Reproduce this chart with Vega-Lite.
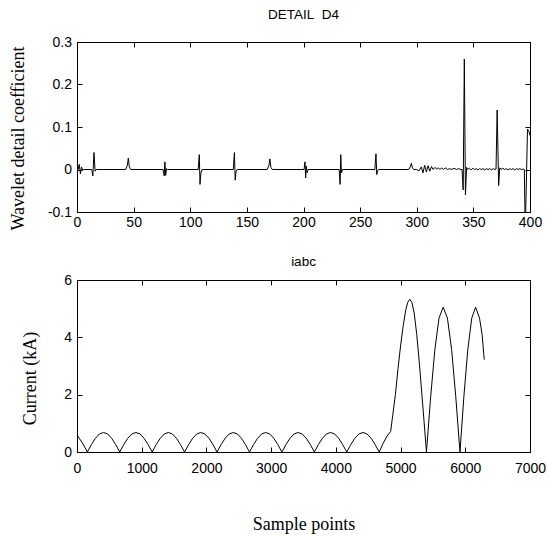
{
  "$schema": "https://vega.github.io/schema/vega-lite/v6.json",
  "padding": {"left": 8, "top": 7, "right": 5, "bottom": 0},
  "background": "white",
  "config": {
    "view": {"stroke": "black", "strokeWidth": 1},
    "axis": {
      "domainColor": "black", "tickColor": "black", "labelColor": "black", "titleColor": "black",
      "grid": false, "labelFont": "Liberation Sans", "labelFontSize": 14,
      "titleFont": "Liberation Serif", "titleFontSize": 18, "titleFontWeight": "normal",
      "tickSize": -5, "labelFlush": false, "labelOverlap": false
    },
    "title": {"font": "Liberation Sans", "fontSize": 13.5, "fontWeight": "normal", "color": "black"}
  },
  "datasets": {
    "d4": [
      {"sample": 0, "coef": 0.002}, {"sample": 1, "coef": 0.0}, {"sample": 2, "coef": 0.012}, {"sample": 3, "coef": -0.01},
      {"sample": 4, "coef": 0.006}, {"sample": 5, "coef": -0.002}, {"sample": 6, "coef": 0.0},
      {"sample": 13, "coef": 0.0}, {"sample": 14, "coef": -0.015}, {"sample": 15, "coef": 0.04}, {"sample": 16, "coef": -0.004}, {"sample": 17, "coef": 0.0},
      {"sample": 43, "coef": 0.0}, {"sample": 44.5, "coef": 0.01}, {"sample": 45.3, "coef": 0.027}, {"sample": 46.2, "coef": 0.006}, {"sample": 47.5, "coef": 0.0},
      {"sample": 76, "coef": 0.0}, {"sample": 77, "coef": -0.015}, {"sample": 77.6, "coef": 0.018}, {"sample": 78.3, "coef": -0.014}, {"sample": 79, "coef": 0.002}, {"sample": 80, "coef": 0.0},
      {"sample": 107, "coef": 0.0}, {"sample": 108, "coef": 0.035}, {"sample": 108.6, "coef": -0.035}, {"sample": 109.4, "coef": -0.008}, {"sample": 110.5, "coef": 0.0},
      {"sample": 138, "coef": 0.0}, {"sample": 139, "coef": 0.04}, {"sample": 139.7, "coef": -0.025}, {"sample": 140.5, "coef": -0.004}, {"sample": 141.5, "coef": 0.0},
      {"sample": 168, "coef": 0.0}, {"sample": 169.5, "coef": 0.01}, {"sample": 170.3, "coef": 0.025}, {"sample": 171.2, "coef": 0.005}, {"sample": 172.5, "coef": 0.0},
      {"sample": 200.5, "coef": 0.0}, {"sample": 201.3, "coef": 0.018}, {"sample": 201.9, "coef": -0.02}, {"sample": 202.5, "coef": 0.008}, {"sample": 203.2, "coef": -0.008}, {"sample": 204, "coef": 0.0},
      {"sample": 231.5, "coef": 0.0}, {"sample": 232.3, "coef": -0.035}, {"sample": 232.9, "coef": 0.035}, {"sample": 233.5, "coef": -0.008}, {"sample": 234.5, "coef": 0.0},
      {"sample": 263, "coef": 0.0}, {"sample": 264, "coef": 0.037}, {"sample": 264.7, "coef": -0.012}, {"sample": 265.5, "coef": -0.002}, {"sample": 266.5, "coef": 0.0},
      {"sample": 293, "coef": 0.0}, {"sample": 294.5, "coef": 0.008}, {"sample": 295.3, "coef": 0.015}, {"sample": 296.2, "coef": 0.003}, {"sample": 297.5, "coef": 0.0},
      {"sample": 300, "coef": 0.0}, {"sample": 302, "coef": -0.003}, {"sample": 304, "coef": 0.006}, {"sample": 305.5, "coef": -0.008},
      {"sample": 307, "coef": 0.01}, {"sample": 308.5, "coef": -0.006}, {"sample": 310, "coef": 0.009}, {"sample": 311.5, "coef": -0.004},
      {"sample": 313, "coef": 0.007}, {"sample": 314.5, "coef": 0.0}, {"sample": 316, "coef": 0.005}, {"sample": 317.5, "coef": 0.001},
      {"sample": 319, "coef": 0.004}, {"sample": 320.5, "coef": 0.0}, {"sample": 322, "coef": 0.004}, {"sample": 323.5, "coef": 0.0},
      {"sample": 325, "coef": 0.004}, {"sample": 327, "coef": 0.0}, {"sample": 329, "coef": 0.002}, {"sample": 331, "coef": 0.0},
      {"sample": 333, "coef": 0.003}, {"sample": 335, "coef": 0.0}, {"sample": 337, "coef": 0.002}, {"sample": 339, "coef": 0.0}, {"sample": 340, "coef": 0.0},
      {"sample": 341, "coef": -0.048}, {"sample": 342, "coef": 0.26}, {"sample": 343, "coef": -0.06}, {"sample": 344, "coef": 0.005},
      {"sample": 345, "coef": 0.0}, {"sample": 346.5, "coef": 0.003}, {"sample": 348, "coef": -0.001}, {"sample": 349.5, "coef": 0.003},
      {"sample": 351, "coef": 0.0}, {"sample": 352.5, "coef": 0.002}, {"sample": 354, "coef": -0.001}, {"sample": 355.5, "coef": 0.002},
      {"sample": 357, "coef": 0.0}, {"sample": 358.5, "coef": 0.002}, {"sample": 360, "coef": -0.001}, {"sample": 361.5, "coef": 0.002},
      {"sample": 363, "coef": 0.0}, {"sample": 364.5, "coef": 0.002}, {"sample": 366, "coef": -0.001}, {"sample": 367.5, "coef": 0.002},
      {"sample": 369, "coef": 0.0}, {"sample": 370, "coef": 0.001}, {"sample": 371, "coef": 0.14}, {"sample": 372.3, "coef": -0.038},
      {"sample": 373.3, "coef": 0.004}, {"sample": 374.5, "coef": 0.0}, {"sample": 376, "coef": 0.003}, {"sample": 377.5, "coef": 0.0},
      {"sample": 379, "coef": 0.002}, {"sample": 380.5, "coef": -0.001}, {"sample": 382, "coef": 0.002}, {"sample": 383.5, "coef": 0.0},
      {"sample": 385, "coef": 0.002}, {"sample": 386.5, "coef": -0.001}, {"sample": 388, "coef": 0.002}, {"sample": 389.5, "coef": 0.0},
      {"sample": 391, "coef": 0.002}, {"sample": 392.5, "coef": 0.0}, {"sample": 394, "coef": 0.001}, {"sample": 395, "coef": 0.0},
      {"sample": 395.8, "coef": -0.15}, {"sample": 397.8, "coef": 0.095}, {"sample": 399, "coef": 0.09}, {"sample": 400, "coef": 0.08}
    ],
    "iabc": [
      {"sample": 0, "current": 0.6}, {"sample": 40, "current": 0.46}, {"sample": 80, "current": 0.33}, {"sample": 120, "current": 0.17}, {"sample": 160, "current": 0},
      {"sample": 223, "current": 0.26}, {"sample": 285, "current": 0.48}, {"sample": 348, "current": 0.63}, {"sample": 410, "current": 0.68}, {"sample": 473, "current": 0.63}, {"sample": 535, "current": 0.48}, {"sample": 598, "current": 0.26}, {"sample": 660, "current": 0},
      {"sample": 723, "current": 0.26}, {"sample": 785, "current": 0.48}, {"sample": 848, "current": 0.63}, {"sample": 911, "current": 0.68}, {"sample": 974, "current": 0.63}, {"sample": 1036, "current": 0.48}, {"sample": 1099, "current": 0.26}, {"sample": 1162, "current": 0},
      {"sample": 1224, "current": 0.26}, {"sample": 1287, "current": 0.48}, {"sample": 1349, "current": 0.63}, {"sample": 1412, "current": 0.68}, {"sample": 1474, "current": 0.63}, {"sample": 1537, "current": 0.48}, {"sample": 1599, "current": 0.26}, {"sample": 1662, "current": 0},
      {"sample": 1725, "current": 0.26}, {"sample": 1788, "current": 0.48}, {"sample": 1850, "current": 0.63}, {"sample": 1913, "current": 0.68}, {"sample": 1976, "current": 0.63}, {"sample": 2039, "current": 0.48}, {"sample": 2101, "current": 0.26}, {"sample": 2164, "current": 0},
      {"sample": 2227, "current": 0.26}, {"sample": 2290, "current": 0.48}, {"sample": 2352, "current": 0.63}, {"sample": 2415, "current": 0.68}, {"sample": 2478, "current": 0.63}, {"sample": 2541, "current": 0.48}, {"sample": 2603, "current": 0.26}, {"sample": 2666, "current": 0},
      {"sample": 2728, "current": 0.26}, {"sample": 2791, "current": 0.48}, {"sample": 2853, "current": 0.63}, {"sample": 2916, "current": 0.68}, {"sample": 2978, "current": 0.63}, {"sample": 3041, "current": 0.48}, {"sample": 3103, "current": 0.26}, {"sample": 3166, "current": 0},
      {"sample": 3229, "current": 0.26}, {"sample": 3292, "current": 0.48}, {"sample": 3354, "current": 0.63}, {"sample": 3417, "current": 0.68}, {"sample": 3480, "current": 0.63}, {"sample": 3543, "current": 0.48}, {"sample": 3605, "current": 0.26}, {"sample": 3668, "current": 0},
      {"sample": 3730, "current": 0.26}, {"sample": 3793, "current": 0.48}, {"sample": 3855, "current": 0.63}, {"sample": 3918, "current": 0.68}, {"sample": 3980, "current": 0.63}, {"sample": 4043, "current": 0.48}, {"sample": 4105, "current": 0.26}, {"sample": 4168, "current": 0},
      {"sample": 4231, "current": 0.26}, {"sample": 4294, "current": 0.48}, {"sample": 4356, "current": 0.63}, {"sample": 4419, "current": 0.68}, {"sample": 4482, "current": 0.63}, {"sample": 4545, "current": 0.48}, {"sample": 4607, "current": 0.26}, {"sample": 4670, "current": 0},
      {"sample": 4730, "current": 0.3}, {"sample": 4790, "current": 0.55}, {"sample": 4847, "current": 0.72}, {"sample": 4880, "current": 1.3}, {"sample": 4920, "current": 2.0},
      {"sample": 4960, "current": 2.9}, {"sample": 5000, "current": 3.7}, {"sample": 5040, "current": 4.4}, {"sample": 5080, "current": 4.95}, {"sample": 5110, "current": 5.22},
      {"sample": 5142, "current": 5.33}, {"sample": 5175, "current": 5.22}, {"sample": 5210, "current": 4.85}, {"sample": 5250, "current": 4.1}, {"sample": 5290, "current": 3.1},
      {"sample": 5330, "current": 2.0}, {"sample": 5365, "current": 1.0}, {"sample": 5400, "current": 0},
      {"sample": 5465, "current": 1.93}, {"sample": 5530, "current": 3.57}, {"sample": 5594, "current": 4.67}, {"sample": 5659, "current": 5.05}, {"sample": 5724, "current": 4.67}, {"sample": 5789, "current": 3.57}, {"sample": 5853, "current": 1.93}, {"sample": 5918, "current": 0},
      {"sample": 5978, "current": 1.93}, {"sample": 6039, "current": 3.57}, {"sample": 6100, "current": 4.67}, {"sample": 6160, "current": 5.05}, {"sample": 6220, "current": 4.67}, {"sample": 6260, "current": 4.1}, {"sample": 6293, "current": 3.22}
    ]
  },
  "spacing": 20,
  "vconcat": [
    {
      "title": {"text": "DETAIL\u00a0 D4", "offset": 14},
      "width": 453,
      "height": 170,
      "data": {"name": "d4"},
      "layer": [
        {
          "mark": {"type": "line", "color": "black", "strokeWidth": 1, "clip": true},
          "encoding": {
            "x": {"field": "sample", "type": "quantitative", "scale": {"domain": [0, 400], "nice": false},
                  "axis": {"orient": "bottom", "title": null, "values": [0, 50, 100, 150, 200, 250, 300, 350, 400], "labelPadding": 8.5}},
            "y": {"field": "coef", "type": "quantitative", "scale": {"domain": [-0.1, 0.3], "nice": false, "zero": false},
                  "axis": {"orient": "left", "title": "Wavelet detail coefficient", "values": [-0.1, 0, 0.1, 0.2, 0.3],
                           "labelExpr": "datum.value == 0 ? '0' : replace(format(datum.value, '.1f'), '\u2212', '-')",
                           "labelPadding": 10.5, "titleX": -59, "titleY": 96, "titleBaseline": "middle", "titleAlign": "center", "titleAngle": -90}}
          }
        },
        {
          "mark": {"type": "line", "opacity": 0},
          "encoding": {
            "x": {"field": "sample", "type": "quantitative", "scale": {"domain": [0, 400], "nice": false},
                  "axis": {"orient": "top", "title": null, "labels": false, "values": [0, 50, 100, 150, 200, 250, 300, 350, 400]}},
            "y": {"field": "coef", "type": "quantitative", "scale": {"domain": [-0.1, 0.3], "nice": false, "zero": false},
                  "axis": {"orient": "right", "title": null, "labels": false, "values": [-0.1, 0, 0.1, 0.2, 0.3]}}
          }
        }
      ],
      "resolve": {"axis": {"x": "independent", "y": "independent"}}
    },
    {
      "title": {"text": "iabc", "offset": 5},
      "width": 453,
      "height": 172,
      "data": {"name": "iabc"},
      "layer": [
        {
          "mark": {"type": "line", "color": "black", "strokeWidth": 1, "clip": true},
          "encoding": {
            "x": {"field": "sample", "type": "quantitative", "scale": {"domain": [0, 7000], "nice": false},
                  "axis": {"orient": "bottom", "title": "Sample points", "values": [0, 1000, 2000, 3000, 4000, 5000, 6000, 7000], "format": "d",
                           "labelPadding": 14, "titleY": 72, "titleBaseline": "middle"}},
            "y": {"field": "current", "type": "quantitative", "scale": {"domain": [0, 6], "nice": false},
                  "axis": {"orient": "left", "title": "Current (kA)", "values": [0, 2, 4, 6],
                           "labelPadding": 10.5, "titleX": -46.5, "titleY": 98, "titleBaseline": "middle", "titleAlign": "center", "titleAngle": -90}}
          }
        },
        {
          "mark": {"type": "line", "opacity": 0},
          "encoding": {
            "x": {"field": "sample", "type": "quantitative", "scale": {"domain": [0, 7000], "nice": false},
                  "axis": {"orient": "top", "title": null, "labels": false, "values": [0, 1000, 2000, 3000, 4000, 5000, 6000, 7000]}},
            "y": {"field": "current", "type": "quantitative", "scale": {"domain": [0, 6], "nice": false},
                  "axis": {"orient": "right", "title": null, "labels": false, "values": [0, 2, 4, 6]}}
          }
        }
      ],
      "resolve": {"axis": {"x": "independent", "y": "independent"}}
    }
  ]
}
